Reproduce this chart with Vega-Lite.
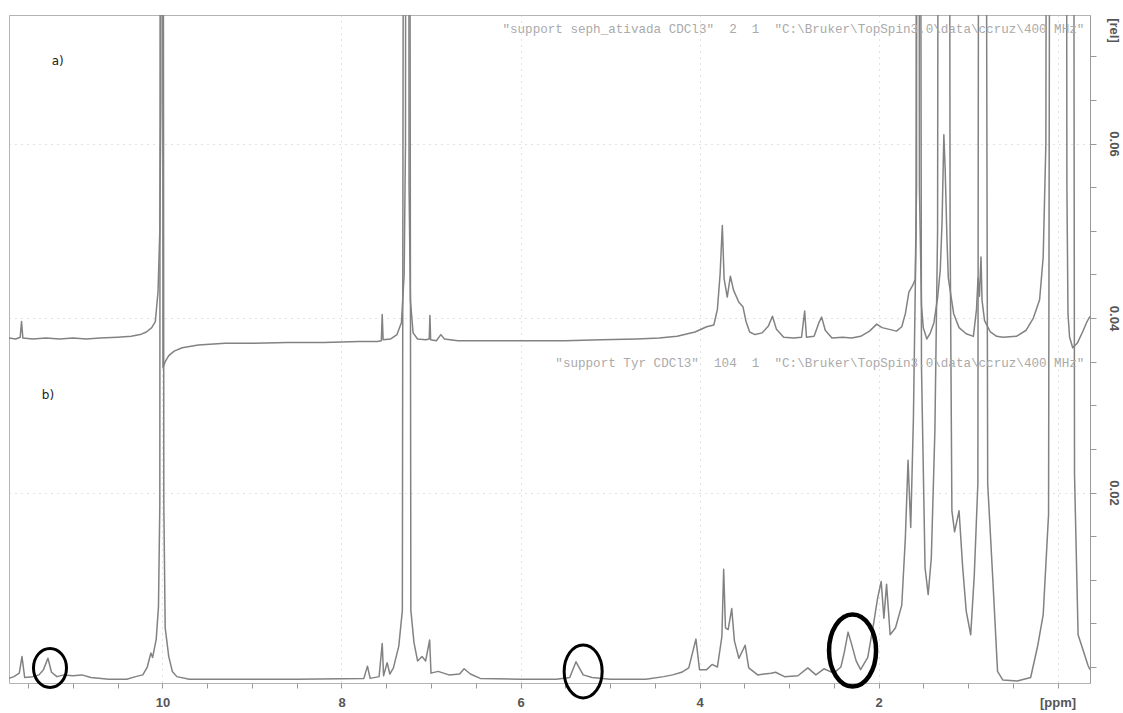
{
  "$schema": "https://vega.github.io/schema/vega-lite/v6.json",
  "width": 1081,
  "height": 668,
  "autosize": {"type": "none"},
  "padding": {"left": 9, "top": 15, "right": 33, "bottom": 30},
  "background": "white",
  "config": {"view": {"stroke": "#b4b4b4", "strokeWidth": 1}},
  "datasets": {
    "specA": [
      {"ppm": 11.715, "v": 0.0377}, {"ppm": 11.64, "v": 0.0376}, {"ppm": 11.59, "v": 0.0378}, {"ppm": 11.575, "v": 0.0396}, {"ppm": 11.56, "v": 0.0377},
      {"ppm": 11.45, "v": 0.0376}, {"ppm": 11.3, "v": 0.0377}, {"ppm": 11.15, "v": 0.0376}, {"ppm": 11.0, "v": 0.0377}, {"ppm": 10.85, "v": 0.0376},
      {"ppm": 10.7, "v": 0.0377}, {"ppm": 10.5, "v": 0.0378}, {"ppm": 10.35, "v": 0.0379}, {"ppm": 10.25, "v": 0.0381}, {"ppm": 10.18, "v": 0.0384},
      {"ppm": 10.12, "v": 0.0389}, {"ppm": 10.08, "v": 0.0396}, {"ppm": 10.05, "v": 0.043}, {"ppm": 10.03, "v": 0.05}, {"ppm": 10.018, "v": 0.065},
      {"ppm": 10.01, "v": 0.2}, {"ppm": 10.0, "v": 0.2}, {"ppm": 9.995, "v": 0.0343}, {"ppm": 9.97, "v": 0.035}, {"ppm": 9.93, "v": 0.0357},
      {"ppm": 9.87, "v": 0.0362}, {"ppm": 9.78, "v": 0.0366}, {"ppm": 9.6, "v": 0.0369}, {"ppm": 9.3, "v": 0.0371}, {"ppm": 9.0, "v": 0.0371},
      {"ppm": 8.6, "v": 0.0372}, {"ppm": 8.2, "v": 0.0372}, {"ppm": 7.8, "v": 0.0373}, {"ppm": 7.6, "v": 0.0373}, {"ppm": 7.555, "v": 0.0374},
      {"ppm": 7.545, "v": 0.0404}, {"ppm": 7.535, "v": 0.0375}, {"ppm": 7.45, "v": 0.0376}, {"ppm": 7.38, "v": 0.0381}, {"ppm": 7.33, "v": 0.0395},
      {"ppm": 7.3, "v": 0.045}, {"ppm": 7.285, "v": 0.06}, {"ppm": 7.275, "v": 0.2}, {"ppm": 7.255, "v": 0.2}, {"ppm": 7.245, "v": 0.055},
      {"ppm": 7.23, "v": 0.042}, {"ppm": 7.2, "v": 0.0383}, {"ppm": 7.15, "v": 0.0376}, {"ppm": 7.06, "v": 0.0375}, {"ppm": 7.02, "v": 0.0376},
      {"ppm": 7.012, "v": 0.0403}, {"ppm": 7.004, "v": 0.0375}, {"ppm": 6.94, "v": 0.0374}, {"ppm": 6.89, "v": 0.0381}, {"ppm": 6.85, "v": 0.0376},
      {"ppm": 6.7, "v": 0.0374}, {"ppm": 6.3, "v": 0.0374}, {"ppm": 5.9, "v": 0.0374}, {"ppm": 5.5, "v": 0.0374}, {"ppm": 5.1, "v": 0.0375},
      {"ppm": 4.7, "v": 0.0376}, {"ppm": 4.45, "v": 0.0377}, {"ppm": 4.25, "v": 0.0379}, {"ppm": 4.05, "v": 0.0384}, {"ppm": 3.92, "v": 0.039},
      {"ppm": 3.84, "v": 0.0392}, {"ppm": 3.8, "v": 0.041}, {"ppm": 3.77, "v": 0.045}, {"ppm": 3.745, "v": 0.0506}, {"ppm": 3.725, "v": 0.0445},
      {"ppm": 3.69, "v": 0.0424}, {"ppm": 3.655, "v": 0.0448}, {"ppm": 3.62, "v": 0.0432}, {"ppm": 3.56, "v": 0.0418}, {"ppm": 3.515, "v": 0.0413},
      {"ppm": 3.48, "v": 0.0396}, {"ppm": 3.44, "v": 0.0384}, {"ppm": 3.38, "v": 0.0381}, {"ppm": 3.3, "v": 0.0383}, {"ppm": 3.23, "v": 0.0391},
      {"ppm": 3.185, "v": 0.0402}, {"ppm": 3.14, "v": 0.0387}, {"ppm": 3.06, "v": 0.0378}, {"ppm": 2.95, "v": 0.0377}, {"ppm": 2.86, "v": 0.0378},
      {"ppm": 2.825, "v": 0.0408}, {"ppm": 2.805, "v": 0.0378}, {"ppm": 2.72, "v": 0.0379}, {"ppm": 2.665, "v": 0.0395}, {"ppm": 2.635, "v": 0.0401},
      {"ppm": 2.595, "v": 0.0386}, {"ppm": 2.52, "v": 0.0377}, {"ppm": 2.4, "v": 0.0378}, {"ppm": 2.3, "v": 0.0377}, {"ppm": 2.2, "v": 0.0379},
      {"ppm": 2.1, "v": 0.0385}, {"ppm": 2.02, "v": 0.0393}, {"ppm": 1.96, "v": 0.0389}, {"ppm": 1.88, "v": 0.0387}, {"ppm": 1.8, "v": 0.0385},
      {"ppm": 1.74, "v": 0.039}, {"ppm": 1.7, "v": 0.0405}, {"ppm": 1.66, "v": 0.043}, {"ppm": 1.62, "v": 0.0437}, {"ppm": 1.59, "v": 0.0444},
      {"ppm": 1.575, "v": 0.055}, {"ppm": 1.566, "v": 0.2}, {"ppm": 1.552, "v": 0.2}, {"ppm": 1.543, "v": 0.055}, {"ppm": 1.52, "v": 0.0415},
      {"ppm": 1.5, "v": 0.0389}, {"ppm": 1.46, "v": 0.0376}, {"ppm": 1.42, "v": 0.0383}, {"ppm": 1.38, "v": 0.0395}, {"ppm": 1.34, "v": 0.0423},
      {"ppm": 1.31, "v": 0.0455}, {"ppm": 1.29, "v": 0.051}, {"ppm": 1.27, "v": 0.061}, {"ppm": 1.255, "v": 0.057}, {"ppm": 1.235, "v": 0.049},
      {"ppm": 1.22, "v": 0.0446}, {"ppm": 1.19, "v": 0.0425}, {"ppm": 1.16, "v": 0.0405}, {"ppm": 1.1, "v": 0.0389}, {"ppm": 1.02, "v": 0.0382},
      {"ppm": 0.94, "v": 0.0379}, {"ppm": 0.905, "v": 0.041}, {"ppm": 0.888, "v": 0.0446}, {"ppm": 0.872, "v": 0.0425}, {"ppm": 0.855, "v": 0.047},
      {"ppm": 0.843, "v": 0.042}, {"ppm": 0.815, "v": 0.0397}, {"ppm": 0.75, "v": 0.0384}, {"ppm": 0.68, "v": 0.0379}, {"ppm": 0.61, "v": 0.0378},
      {"ppm": 0.46, "v": 0.0379}, {"ppm": 0.35, "v": 0.0386}, {"ppm": 0.27, "v": 0.04}, {"ppm": 0.2, "v": 0.0421}, {"ppm": 0.16, "v": 0.047},
      {"ppm": 0.13, "v": 0.06}, {"ppm": 0.11, "v": 0.2}, {"ppm": -0.09, "v": 0.2}, {"ppm": -0.105, "v": 0.055}, {"ppm": -0.117, "v": 0.0405},
      {"ppm": -0.135, "v": 0.0378}, {"ppm": -0.17, "v": 0.0366}, {"ppm": -0.22, "v": 0.0371}, {"ppm": -0.28, "v": 0.0384}, {"ppm": -0.33, "v": 0.0396},
      {"ppm": -0.363, "v": 0.0402}
    ],
    "specB": [
      {"ppm": 11.715, "v": -0.0013}, {"ppm": 11.66, "v": -0.0011}, {"ppm": 11.6, "v": -0.0007}, {"ppm": 11.57, "v": 0.0012}, {"ppm": 11.54, "v": -0.0012},
      {"ppm": 11.45, "v": -0.0011}, {"ppm": 11.38, "v": -0.0009}, {"ppm": 11.33, "v": -0.0003}, {"ppm": 11.28, "v": 0.001}, {"ppm": 11.24, "v": -0.0006},
      {"ppm": 11.18, "v": -0.0011}, {"ppm": 11.1, "v": -0.0009}, {"ppm": 11.0, "v": -0.001}, {"ppm": 10.9, "v": -0.0009}, {"ppm": 10.8, "v": -0.0012},
      {"ppm": 10.6, "v": -0.0014}, {"ppm": 10.4, "v": -0.0014}, {"ppm": 10.3, "v": -0.0011}, {"ppm": 10.22, "v": -0.0009}, {"ppm": 10.17, "v": 0.0},
      {"ppm": 10.15, "v": 0.0008}, {"ppm": 10.13, "v": 0.0016}, {"ppm": 10.11, "v": 0.0011}, {"ppm": 10.07, "v": 0.0032}, {"ppm": 10.045, "v": 0.0069},
      {"ppm": 10.03, "v": 0.0185}, {"ppm": 10.02, "v": 0.2}, {"ppm": 10.0, "v": 0.2}, {"ppm": 9.985, "v": 0.0185}, {"ppm": 9.97, "v": 0.0045},
      {"ppm": 9.93, "v": 0.0012}, {"ppm": 9.89, "v": -0.0005}, {"ppm": 9.84, "v": -0.0011}, {"ppm": 9.7, "v": -0.0014}, {"ppm": 9.0, "v": -0.0014},
      {"ppm": 8.5, "v": -0.0014}, {"ppm": 7.75, "v": -0.0013}, {"ppm": 7.71, "v": 0.0001}, {"ppm": 7.68, "v": -0.0013}, {"ppm": 7.58, "v": -0.0011},
      {"ppm": 7.545, "v": 0.0027}, {"ppm": 7.53, "v": -0.001}, {"ppm": 7.49, "v": 0.0005}, {"ppm": 7.46, "v": -0.0008}, {"ppm": 7.42, "v": -0.0001},
      {"ppm": 7.36, "v": 0.0024}, {"ppm": 7.32, "v": 0.0065}, {"ppm": 7.295, "v": 0.2}, {"ppm": 7.25, "v": 0.2}, {"ppm": 7.225, "v": 0.0065},
      {"ppm": 7.19, "v": 0.0028}, {"ppm": 7.15, "v": 0.0007}, {"ppm": 7.1, "v": 0.0012}, {"ppm": 7.06, "v": 0.0007}, {"ppm": 7.015, "v": 0.0031},
      {"ppm": 7.0, "v": -0.0007}, {"ppm": 6.92, "v": -0.0005}, {"ppm": 6.8, "v": -0.0009}, {"ppm": 6.68, "v": -0.0008}, {"ppm": 6.63, "v": -0.0002},
      {"ppm": 6.56, "v": -0.0008}, {"ppm": 6.45, "v": -0.0013}, {"ppm": 6.0, "v": -0.0014}, {"ppm": 5.6, "v": -0.0014}, {"ppm": 5.45, "v": -0.0012},
      {"ppm": 5.38, "v": 0.0006}, {"ppm": 5.3, "v": -0.0009}, {"ppm": 5.2, "v": -0.0012}, {"ppm": 5.0, "v": -0.0014}, {"ppm": 4.6, "v": -0.0014},
      {"ppm": 4.4, "v": -0.0011}, {"ppm": 4.3, "v": -0.0009}, {"ppm": 4.2, "v": -0.0006}, {"ppm": 4.12, "v": -0.0001}, {"ppm": 4.04, "v": 0.0032},
      {"ppm": 4.0, "v": -0.0003}, {"ppm": 3.92, "v": -0.0003}, {"ppm": 3.86, "v": 0.0003}, {"ppm": 3.8, "v": 0.0}, {"ppm": 3.75, "v": 0.0035},
      {"ppm": 3.73, "v": 0.0112}, {"ppm": 3.71, "v": 0.0045}, {"ppm": 3.68, "v": 0.0043}, {"ppm": 3.64, "v": 0.0067}, {"ppm": 3.61, "v": 0.003},
      {"ppm": 3.56, "v": 0.001}, {"ppm": 3.49, "v": 0.0025}, {"ppm": 3.45, "v": -0.0001}, {"ppm": 3.35, "v": -0.0009}, {"ppm": 3.2, "v": -0.0007},
      {"ppm": 3.15, "v": -0.0006}, {"ppm": 3.05, "v": -0.0011}, {"ppm": 2.9, "v": -0.001}, {"ppm": 2.79, "v": -0.0001}, {"ppm": 2.7, "v": -0.0009},
      {"ppm": 2.61, "v": -0.0002}, {"ppm": 2.5, "v": -0.0007}, {"ppm": 2.42, "v": 0.0}, {"ppm": 2.38, "v": 0.0018}, {"ppm": 2.34, "v": 0.004},
      {"ppm": 2.3, "v": 0.0026}, {"ppm": 2.25, "v": 0.0007}, {"ppm": 2.2, "v": -0.0003}, {"ppm": 2.12, "v": 0.0011}, {"ppm": 2.05, "v": 0.0053},
      {"ppm": 2.01, "v": 0.0079}, {"ppm": 1.97, "v": 0.0098}, {"ppm": 1.94, "v": 0.0056}, {"ppm": 1.91, "v": 0.0095}, {"ppm": 1.87, "v": 0.0037},
      {"ppm": 1.81, "v": 0.0045}, {"ppm": 1.74, "v": 0.0071}, {"ppm": 1.7, "v": 0.0148}, {"ppm": 1.67, "v": 0.0237}, {"ppm": 1.64, "v": 0.016},
      {"ppm": 1.61, "v": 0.0285}, {"ppm": 1.58, "v": 0.05}, {"ppm": 1.57, "v": 0.2}, {"ppm": 1.545, "v": 0.2}, {"ppm": 1.52, "v": 0.0345},
      {"ppm": 1.48, "v": 0.0114}, {"ppm": 1.445, "v": 0.0083}, {"ppm": 1.41, "v": 0.0125}, {"ppm": 1.37, "v": 0.0271}, {"ppm": 1.34, "v": 0.05},
      {"ppm": 1.32, "v": 0.2}, {"ppm": 1.22, "v": 0.2}, {"ppm": 1.2, "v": 0.05}, {"ppm": 1.18, "v": 0.0179}, {"ppm": 1.15, "v": 0.0155},
      {"ppm": 1.1, "v": 0.0179}, {"ppm": 1.06, "v": 0.0115}, {"ppm": 1.02, "v": 0.0064}, {"ppm": 0.97, "v": 0.0037}, {"ppm": 0.93, "v": 0.0105},
      {"ppm": 0.89, "v": 0.021}, {"ppm": 0.87, "v": 0.2}, {"ppm": 0.82, "v": 0.2}, {"ppm": 0.78, "v": 0.021}, {"ppm": 0.72, "v": 0.0095},
      {"ppm": 0.67, "v": -0.0005}, {"ppm": 0.61, "v": -0.0015}, {"ppm": 0.45, "v": -0.0016}, {"ppm": 0.3, "v": -0.0012}, {"ppm": 0.22, "v": 0.0025},
      {"ppm": 0.16, "v": 0.006}, {"ppm": 0.1, "v": 0.0175}, {"ppm": 0.07, "v": 0.2}, {"ppm": -0.17, "v": 0.2}, {"ppm": -0.19, "v": 0.0221},
      {"ppm": -0.23, "v": 0.0037}, {"ppm": -0.29, "v": 0.0018}, {"ppm": -0.34, "v": 0.0002}, {"ppm": -0.363, "v": -0.0003}
    ],
    "notes": [
      {"ppm": -0.3, "v": 0.0731, "txt": "\"support seph_ativada CDCl3\"\u00a0\u00a02\u00a0\u00a01\u00a0\u00a0\"C:\\Bruker\\TopSpin3.0\\data\\ccruz\\400 MHz\""},
      {"ppm": -0.3, "v": 0.0348, "txt": "\"support Tyr CDCl3\"\u00a0\u00a0104\u00a0\u00a01\u00a0\u00a0\"C:\\Bruker\\TopSpin3.0\\data\\ccruz\\400 MHz\""}
    ],
    "panels": [
      {"ppm": 11.17, "v": 0.0695, "txt": "a)"},
      {"ppm": 11.28, "v": 0.0312, "txt": "b)"}
    ],
    "marks": [
      {"ppm": 11.257, "v": -0.0001, "id": "E1"},
      {"ppm": 5.3, "v": -0.0005, "id": "E2"},
      {"ppm": 2.29, "v": 0.0019, "id": "E3"}
    ]
  },
  "encoding": {
    "x": {
      "field": "ppm",
      "type": "quantitative",
      "scale": {"domain": [-0.363, 11.715], "reverse": true, "nice": false, "zero": false},
      "axis": {
        "orient": "bottom",
        "title": null,
        "values": [11.5, 11, 10.5, 10, 9.5, 9, 8.5, 8, 7.5, 7, 6.5, 6, 5.5, 5, 4.5, 4, 3.5, 3, 2.5, 2, 1.5, 1, 0.5, 0],
        "labelExpr": "datum.value == 0 ? '[ppm]' : (datum.value % 2 == 0 ? format(datum.value, 'd') : '')",
        "domain": false,
        "ticks": true,
        "tickColor": "#9a9a9a",
        "tickSize": 5,
        "labelColor": "#555555",
        "labelFont": "Liberation Sans",
        "labelFontWeight": "bold",
        "labelFontSize": 13,
        "labelPadding": 8,
        "labelFlush": false,
        "labelOverlap": false,
        "grid": true,
        "gridColor": "#c4c4c4",
        "gridDash": [1, 5],
        "gridOpacity": {"condition": {"test": "datum.value % 2 == 0", "value": 1}, "value": 0}
      }
    },
    "y": {
      "field": "v",
      "type": "quantitative",
      "scale": {"domain": [-0.00183, 0.07473], "nice": false, "zero": false},
      "axis": {
        "orient": "right",
        "title": "[rel]",
        "titleAngle": 90,
        "titleX": 23,
        "titleY": 15,
        "titleAlign": "center",
        "titleBaseline": "middle",
        "titleColor": "#555555",
        "titleFont": "Liberation Sans",
        "titleFontWeight": "bold",
        "titleFontSize": 13,
        "values": [0, 0.005, 0.01, 0.015, 0.02, 0.025, 0.03, 0.035, 0.04, 0.045, 0.05, 0.055, 0.06, 0.065, 0.07],
        "labelExpr": "indexof(['0.020','0.040','0.060'], format(datum.value, '.3f')) >= 0 ? format(datum.value, '.2f') : ''",
        "labelAngle": 90,
        "labelAlign": "center",
        "labelBaseline": "middle",
        "labelPadding": 17,
        "labelColor": "#555555",
        "labelFont": "Liberation Sans",
        "labelFontWeight": "bold",
        "labelFontSize": 13,
        "labelOverlap": false,
        "domain": true,
        "domainColor": "#9a9a9a",
        "tickColor": "#9a9a9a",
        "tickSize": 6,
        "grid": true,
        "gridColor": "#c4c4c4",
        "gridDash": [1, 5],
        "gridOpacity": {"condition": {"test": "indexof(['0.020','0.040','0.060'], format(datum.value, '.3f')) >= 0", "value": 1}, "value": 0}
      }
    }
  },
  "layer": [
    {
      "data": {"name": "specA"},
      "mark": {"type": "line", "clip": true, "color": "#828282", "strokeWidth": 1.5, "strokeJoin": "round"}
    },
    {
      "data": {"name": "specB"},
      "mark": {"type": "line", "clip": true, "color": "#828282", "strokeWidth": 1.5, "strokeJoin": "round"}
    },
    {
      "data": {"name": "notes"},
      "mark": {"type": "text", "align": "right", "baseline": "middle", "font": "Liberation Mono", "fontSize": 12.6, "color": "#aaaaaa"},
      "encoding": {"text": {"field": "txt"}}
    },
    {
      "data": {"name": "panels"},
      "mark": {"type": "text", "align": "center", "baseline": "middle", "font": "DejaVu Sans", "fontSize": 12, "color": "#222222"},
      "encoding": {"text": {"field": "txt"}}
    },
    {
      "data": {"name": "marks"},
      "transform": [{"filter": "datum.id == 'E1'"}],
      "mark": {"type": "point", "filled": false, "stroke": "#000000", "strokeWidth": 3, "opacity": 1, "size": 1521, "shape": "M 0 -1 A 0.846 1 0 1 1 0 1 A 0.846 1 0 1 1 0 -1 Z"}
    },
    {
      "data": {"name": "marks"},
      "transform": [{"filter": "datum.id == 'E2'"}],
      "mark": {"type": "point", "filled": false, "stroke": "#000000", "strokeWidth": 3, "opacity": 1, "size": 2809, "shape": "M 0 -1 A 0.717 1 0 1 1 0 1 A 0.717 1 0 1 1 0 -1 Z"}
    },
    {
      "data": {"name": "marks"},
      "transform": [{"filter": "datum.id == 'E3'"}],
      "mark": {"type": "point", "filled": false, "stroke": "#000000", "strokeWidth": 4.5, "opacity": 1, "size": 5184, "shape": "M 0 -1 A 0.653 1 0 1 1 0 1 A 0.653 1 0 1 1 0 -1 Z"}
    }
  ]
}
